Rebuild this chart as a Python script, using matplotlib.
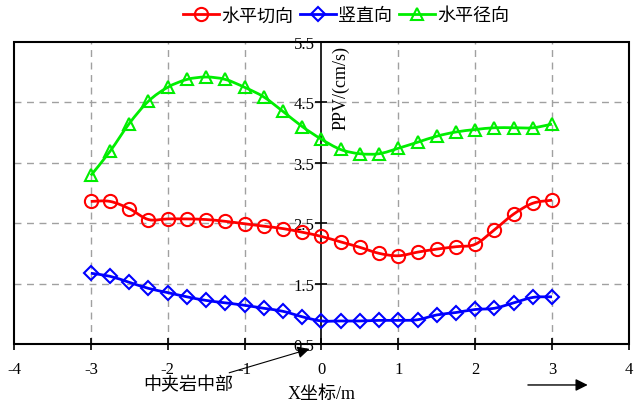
import matplotlib
matplotlib.use('Agg')
import matplotlib.pyplot as plt
from matplotlib.patches import Rectangle, PathPatch
from matplotlib.path import Path
from matplotlib.lines import Line2D

plt.rcParams['font.family'] = ['Liberation Serif', 'Noto Sans CJK SC']
plt.rcParams['axes.unicode_minus'] = False

# distance along x (m)
x = [-3, -2.75, -2.5, -2.25, -2, -1.75, -1.5, -1.25, -1, -0.75, -0.5, -0.25, 0,
     0.25, 0.5, 0.75, 1, 1.25, 1.5, 1.75, 2, 2.25, 2.5, 2.75, 3]

# PPV (cm/s)
tangential = [2.86, 2.86, 2.74, 2.56, 2.57, 2.57, 2.56, 2.53, 2.49, 2.45, 2.41, 2.35, 2.28,
              2.19, 2.10, 2.00, 1.96, 2.02, 2.07, 2.11, 2.15, 2.39, 2.65, 2.83, 2.88]
vertical = [1.67, 1.62, 1.52, 1.42, 1.35, 1.28, 1.22, 1.18, 1.14, 1.09, 1.04, 0.95, 0.88,
            0.88, 0.88, 0.89, 0.89, 0.90, 0.98, 1.02, 1.07, 1.09, 1.18, 1.27, 1.28]
radial = [3.29, 3.69, 4.15, 4.52, 4.75, 4.88, 4.92, 4.88, 4.75, 4.59, 4.35, 4.10, 3.89,
          3.72, 3.65, 3.65, 3.74, 3.84, 3.94, 4.01, 4.05, 4.08, 4.08, 4.08, 4.14]

labels = ['水平切向', '竖直向', '水平径向']


def smooth_path(xs, ys):
    # Excel-like smoothed line: cubic bezier between the data points
    verts = [(xs[0], ys[0])]
    codes = [Path.MOVETO]
    n = len(xs)
    for i in range(n - 1):
        x0, y0 = xs[max(i - 1, 0)], ys[max(i - 1, 0)]
        x3, y3 = xs[min(i + 2, n - 1)], ys[min(i + 2, n - 1)]
        c1 = (xs[i] + (xs[i + 1] - x0) / 6, ys[i] + (ys[i + 1] - y0) / 6)
        c2 = (xs[i + 1] - (x3 - xs[i]) / 6, ys[i + 1] - (y3 - ys[i]) / 6)
        verts += [c1, c2, (xs[i + 1], ys[i + 1])]
        codes += [Path.CURVE4] * 3
    return Path(verts, codes)


fig = plt.figure(figsize=(6.34, 4.02), dpi=100)
ax = fig.add_axes([0.022, 0.142, 0.970, 0.751])

series = [(tangential, '#ff0000', 'o', 9.5), (vertical, '#0000ff', 'D', 7), (radial, '#00ee00', '^', 9)]
handles = []
for (ys, col, mk, ms), lab in zip(series, labels):
    ax.add_patch(PathPatch(smooth_path(x, ys), fill=False, ec=col, lw=2, zorder=3))
    ax.plot(x, ys, ls='none', color=col, marker=mk, ms=ms, mfc='none', mew=1.5, zorder=4)
    handles.append(Line2D([], [], color=col, lw=2, marker=mk, ms=ms, mfc='none', mew=1.5, label=lab))

ax.set_xlim(-4, 4)
ax.set_ylim(0.5, 5.5)
ax.set_xticks(range(-4, 5))
ax.set_yticks([0.5, 1.5, 2.5, 3.5, 4.5, 5.5])

# grid lines (skip the frame and the y axis at 0)
for gx in [-3, -2, -1, 1, 2, 3]:
    ax.axvline(gx, color='#a0a0a0', ls=(0, (5, 4)), lw=1, zorder=0)
for gy in [1.5, 2.5, 3.5, 4.5]:
    ax.axhline(gy, color='#a0a0a0', ls=(0, (5, 4)), lw=1, zorder=0)

ax.spines['left'].set_position(('data', 0))
ax.spines['left'].set_linewidth(1.2)
for s in ['top', 'right', 'bottom']:
    ax.spines[s].set_visible(False)
ax.add_patch(Rectangle((0, 0), 1, 1, transform=ax.transAxes, fill=False,
                       lw=1.5, ec='black', clip_on=False, zorder=5))

ax.tick_params(axis='y', direction='inout', length=8, width=1.2, labelsize=12, pad=1)
ax.tick_params(axis='x', direction='inout', length=8, width=1.2, labelsize=12, pad=8)
ax.set_yticklabels(['0.5', '1.5', '2.5', '3.5', '4.5', '5.5'])

ax.text(0.25, 4.75, 'PPV/(cm/s)', rotation=90, fontsize=13, ha='center', va='center')
ax.set_xlabel('X坐标/m', fontsize=13, labelpad=6)

ax.annotate('中夹岩中部', xy=(-0.12, 0.43), xytext=(-1.15, -0.18),
            fontsize=13, ha='right', va='center', annotation_clip=False,
            arrowprops=dict(arrowstyle='-|>', color='black', lw=0.8, mutation_scale=18))
ax.annotate('', xy=(3.5, -0.18), xytext=(2.65, -0.18), annotation_clip=False,
            arrowprops=dict(arrowstyle='-|>', color='black', lw=1, mutation_scale=18))

fig.legend(handles=handles, loc='center', bbox_to_anchor=(0.546, 0.958), ncol=3, frameon=False,
           fontsize=13, handlelength=2.0, handletextpad=0.1, columnspacing=0.4)

fig.savefig('out.png', dpi=100)
